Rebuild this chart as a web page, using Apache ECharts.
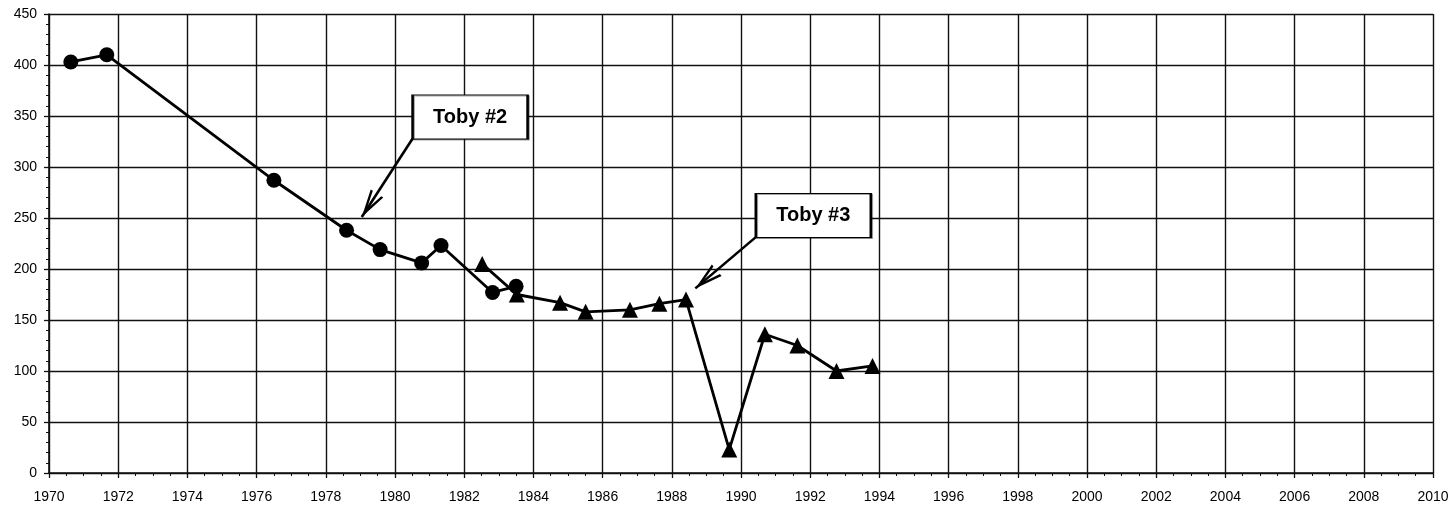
<!DOCTYPE html>
<html>
<head>
<meta charset="utf-8">
<script src="https://cdn.jsdelivr.net/npm/echarts@6/dist/echarts.min.js"></script>
<style>
  html, body { margin: 0; padding: 0; background: #fff; }
  #chart { width: 1452px; height: 506px; }
</style>
</head>
<body>
<div id="chart"></div>
<script>
// circle series (years, values)
const circleYears = [1970.63, 1971.67, 1976.5, 1978.6, 1979.57, 1980.77, 1981.33, 1982.82, 1983.5];
const circleValues = [403, 410, 287, 238, 219, 206, 223, 177, 183];
// triangle series
const triangleYears = [1982.52, 1983.52, 1984.77, 1985.51, 1986.79, 1987.64, 1988.41, 1989.66, 1990.69, 1991.63, 1992.76, 1993.8];
const triangleValues = [205, 175, 167, 158, 160, 166, 170, 23, 136, 125, 100, 105];
// annotations (data coords)
const notes = [
  { text: "Toby #2", box: [1982.17, 349], from: [1980.51, 328], to: [1979.04, 251] },
  { text: "Toby #3", box: [1992.09, 252.5], from: [1990.42, 231], to: [1988.68, 181] }
];

const chart = echarts.init(document.getElementById("chart"));
const ink = "#111";
const font = "Arial, 'Liberation Sans', sans-serif";
const pairs = (xs, ys) => xs.map((x, i) => [x, ys[i]]);

// open arrow head as a filled chevron (tip at top)
const chevron = "path://M0,0 L-7.5,28 L-5,28 L0,8.8 L5,28 L7.5,28 Z";

const option = {
  animation: false,
  grid: { left: 49, right: 19, top: 14, bottom: 33, containLabel: false },
  xAxis: {
    type: "value",
    min: 1970,
    max: 2010,
    interval: 2,
    axisLine: { show: true, onZero: false, lineStyle: { color: ink, width: 1.6 } },
    axisTick: { show: true, length: 5, lineStyle: { color: ink, width: 1.3 } },
    minorTick: { show: true, splitNumber: 4, length: 3, lineStyle: { color: ink, width: 1 } },
    splitLine: { show: true, lineStyle: { color: ink, width: 1.4 } },
    axisLabel: { color: "#000", fontSize: 14, fontFamily: font, margin: 17, formatter: v => String(v) }
  },
  yAxis: {
    type: "value",
    min: 0,
    max: 450,
    interval: 50,
    axisLine: { show: true, lineStyle: { color: ink, width: 1.6 } },
    axisTick: { show: true, length: 5, lineStyle: { color: ink, width: 1.3 } },
    minorTick: { show: true, splitNumber: 5, length: 3, lineStyle: { color: ink, width: 1 } },
    splitLine: { show: true, lineStyle: { color: ink, width: 1.4 } },
    axisLabel: { color: "#000", fontSize: 14, fontFamily: font, margin: 12 }
  },
  series: [
    {
      name: "circles",
      type: "line",
      data: pairs(circleYears, circleValues),
      symbol: "circle",
      symbolSize: 15,
      itemStyle: { color: "#000" },
      lineStyle: { color: "#000", width: 2.8 },
      z: 3
    },
    {
      name: "triangles",
      type: "line",
      data: pairs(triangleYears, triangleValues),
      symbol: "triangle",
      symbolSize: 16,
      itemStyle: { color: "#000" },
      lineStyle: { color: "#000", width: 2.8 },
      z: 3
    },
    {
      name: "notes",
      type: "line",
      data: [],
      silent: true,
      z: 5,
      markLine: {
        silent: true,
        symbol: ["none", chevron],
        symbolSize: [15, 28],
        symbolOffset: [[0, 0], [0, 14]],
        label: { show: false },
        lineStyle: { color: "#000", width: 2.6, type: "solid" },
        data: notes.map(n => [{ coord: n.from }, { coord: n.to }])
      },
      markPoint: {
        silent: true,
        symbol: "rect",
        symbolSize: [115, 44],
        itemStyle: { color: "#fff", borderColor: "#000", borderWidth: 1.6,
          shadowColor: "rgba(0,0,0,0.35)", shadowOffsetX: 1, shadowOffsetY: 1, shadowBlur: 0 },
        label: {
          show: true,
          position: "inside",
          color: "#000",
          fontSize: 20,
          fontWeight: "bold",
          fontFamily: font
        },
        data: notes.map(n => ({ coord: n.box, value: n.text, label: { formatter: n.text } }))
      }
    }
  ]
};
chart.setOption(option);
</script>
</body>
</html>
